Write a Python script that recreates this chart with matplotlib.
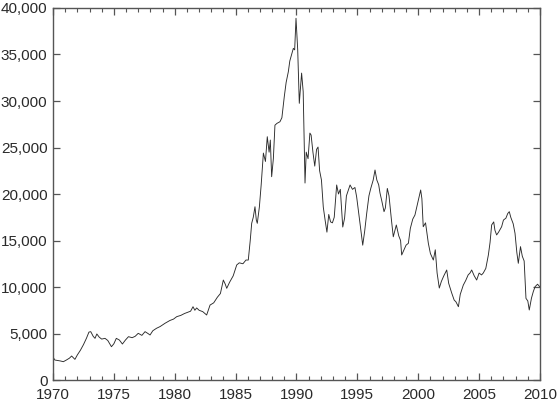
import numpy as np
import matplotlib.pyplot as plt
from matplotlib.ticker import FuncFormatter, MultipleLocator

# values (year, index level)
years = [1970.0, 1970.15, 1970.4, 1970.6, 1970.85, 1971.1, 1971.35, 1971.53, 1971.8,
         1972.0, 1972.25, 1972.5, 1972.75, 1972.95, 1973.1, 1973.3, 1973.45, 1973.6,
         1973.8, 1974.0, 1974.27, 1974.5, 1974.8, 1975.0, 1975.2, 1975.45, 1975.7,
         1975.95, 1976.2, 1976.5, 1976.75, 1977.0, 1977.3, 1977.56, 1977.8, 1977.97,
         1978.2, 1978.5, 1978.8, 1979.2, 1979.6, 1979.9, 1980.16, 1980.5, 1980.8,
         1981.1, 1981.3, 1981.5, 1981.65, 1981.8, 1982.0, 1982.3, 1982.62, 1982.9,
         1983.2, 1983.5, 1983.75, 1983.99, 1984.15, 1984.27, 1984.5, 1984.8, 1985.09,
         1985.3, 1985.6, 1985.85, 1986.04, 1986.2, 1986.32, 1986.45, 1986.59, 1986.7,
         1986.78, 1986.95, 1987.1, 1987.28, 1987.45, 1987.6, 1987.75, 1987.85, 1987.96,
         1988.1, 1988.23, 1988.4, 1988.64, 1988.8, 1989.0, 1989.15, 1989.33, 1989.45,
         1989.6, 1989.74, 1989.85, 1989.96, 1990.1, 1990.23, 1990.42, 1990.55, 1990.7,
         1990.8, 1990.95, 1991.1, 1991.2, 1991.35, 1991.5, 1991.65, 1991.77, 1991.9,
         1992.05, 1992.2, 1992.35, 1992.5, 1992.65, 1992.8, 1992.95, 1993.1, 1993.3,
         1993.45, 1993.6, 1993.8, 1993.95, 1994.1, 1994.4, 1994.6, 1994.8, 1994.94,
         1995.1, 1995.25, 1995.44, 1995.6, 1995.77, 1995.95, 1996.1, 1996.3, 1996.45,
         1996.6, 1996.75, 1996.86, 1997.0, 1997.19, 1997.3, 1997.46, 1997.6, 1997.8,
         1997.95, 1998.2, 1998.4, 1998.55, 1998.64, 1998.8, 1999.0, 1999.19, 1999.35,
         1999.55, 1999.73, 1999.9, 2000.05, 2000.2, 2000.3, 2000.41, 2000.6, 2000.83,
         2001.0, 2001.24, 2001.4, 2001.55, 2001.73, 2001.9, 2002.1, 2002.34, 2002.5,
         2002.75, 2002.95, 2003.1, 2003.3, 2003.45, 2003.7, 2003.9, 2004.1, 2004.25,
         2004.39, 2004.6, 2004.8, 2005.0, 2005.2, 2005.34, 2005.55, 2005.76, 2005.9,
         2006.03, 2006.2, 2006.3, 2006.44, 2006.6, 2006.85, 2007.0, 2007.2, 2007.35,
         2007.48, 2007.6, 2007.8, 2007.95, 2008.1, 2008.22, 2008.4, 2008.55, 2008.7,
         2008.85, 2009.0, 2009.12, 2009.3, 2009.45, 2009.6, 2009.8, 2010.0]
values = [2470, 2150, 2100, 2050, 1970, 2150, 2350, 2580, 2220,
          2700, 3200, 3800, 4500, 5150, 5200, 4700, 4480, 4950,
          4600, 4400, 4480, 4250, 3580, 3900, 4480, 4300, 3870,
          4300, 4660, 4550, 4700, 5020, 4800, 5200, 5000, 4840,
          5300, 5560, 5750, 6100, 6400, 6550, 6810, 6950, 7150,
          7300, 7400, 7880, 7500, 7750, 7500, 7350, 6990, 8060,
          8300, 8900, 9300, 10750, 10300, 9860, 10500, 11200, 12370,
          12600, 12500, 12900, 12900, 15000, 16850, 17500, 18630, 17200,
          16850, 18600, 21000, 24400, 23500, 26160, 24500, 25800, 21860,
          23800, 27400, 27600, 27770, 28200, 30500, 32000, 33150, 34300,
          35000, 35660, 35500, 38890, 35500, 29750, 33000, 31000, 21180,
          24500, 23800, 26550, 26340, 24500, 23000, 24800, 25050, 22500,
          21500, 18600, 17200, 15900, 17800, 17000, 16900, 17500, 20970,
          20000, 20500, 16450, 17400, 19800, 20970, 20500, 20700, 19700,
          18000, 16500, 14500, 16000, 17950, 19800, 20600, 21500, 22580,
          21500, 21000, 20100, 19300, 18100, 18500, 20600, 19800, 17200,
          15400, 16670, 15500, 15000, 13440, 13900, 14500, 14700, 16300,
          17300, 17740, 18700, 19500, 20430, 19500, 16480, 16900, 14700,
          13600, 12900, 14000, 11500, 9890, 10600, 11200, 11830, 10400,
          9350, 8600, 8400, 7880, 9200, 10200, 10700, 11300, 11500,
          11830, 11200, 10750, 11500, 11300, 11500, 12000, 13440, 14800,
          16670, 17000, 16100, 15600, 15900, 16480, 17200, 17400, 17900,
          18100, 17500, 16800, 15770, 13700, 12550, 14340, 13300, 12800,
          8780, 8500, 7530, 8800, 9500, 10040, 10300, 10000]

plt.rcParams['font.family'] = ['Liberation Sans', 'DejaVu Sans']

fig = plt.figure(figsize=(5.58, 4.08), dpi=100)
ax = fig.add_axes([0.095, 0.0686, 0.8727, 0.9118])
ax.plot(years, values, color='#2a2a2a', lw=0.65)

ax.set_xlim(1970, 2010)
ax.set_ylim(0, 40000)
ax.xaxis.set_major_locator(MultipleLocator(5))
ax.xaxis.set_minor_locator(MultipleLocator(1))
ax.yaxis.set_major_locator(MultipleLocator(5000))
ax.yaxis.set_major_formatter(FuncFormatter(lambda v, p: f'{int(v):,}'))

for s in ax.spines.values():
    s.set_color('#555555')
    s.set_linewidth(1.0)
ax.tick_params(which='both', direction='in', top=True, right=True, color='#555555',
               labelcolor='#2a2a2a', labelsize=11)
ax.tick_params(which='major', length=5, width=0.9)
ax.tick_params(which='minor', length=3, width=0.8)
ax.tick_params(axis='x', pad=6)
ax.tick_params(axis='y', pad=4)

fig.savefig('out.png', dpi=100)
